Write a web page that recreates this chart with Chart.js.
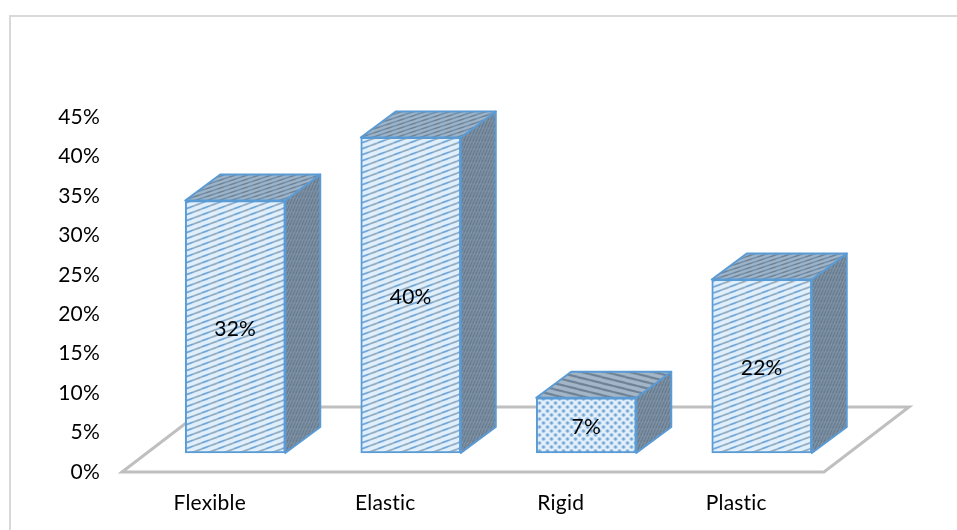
<!DOCTYPE html>
<html>
<head>
<meta charset="utf-8">
<title>Material types</title>
<script src="https://cdn.jsdelivr.net/npm/chart.js@4/dist/chart.umd.min.js"></script>
<style>
    body { margin: 0; background: #fff; }
    canvas { display: block; }
</style>
</head>
<body>
<canvas id="myChart" width="957" height="530"></canvas>
<script>
var categorias = ["Flexible", "Elastic", "Rigid", "Plastic"];
var valores = [32, 40, 7, 22];
var etiquetas = ["32%", "40%", "7%", "22%"];
var maximo = 45;
var paso = 5;

// front plane of the bars sits behind the floor edge
var corrX = 25.5, corrY = -19;
// depth of each box and of the floor
var fondoX = 35, fondoY = -26;
var pisoX = 85, pisoY = -65;
var colorBorde = "#5b9bd5";
var fuente = "Lato";

// diagonal stripes, tile w x h so the lines wrap without a seam
function rayas(w, h, fondo, c1, c2, grosor, baja) {
    var tela = document.createElement("canvas");
    tela.width = w;
    tela.height = h;
    var c = tela.getContext("2d");
    c.fillStyle = fondo;
    c.fillRect(0, 0, w, h);
    c.lineWidth = grosor;
    for (var k = -1; k <= 1; k++) {
        var y0 = baja ? k * h : (k + 1) * h;
        var y1 = baja ? (k + 1) * h : k * h;
        var ym = (y0 + y1) / 2;
        c.strokeStyle = c1;
        c.beginPath(); c.moveTo(0, y0); c.lineTo(w / 2, ym); c.stroke();
        c.strokeStyle = c2;
        c.beginPath(); c.moveTo(w / 2, ym); c.lineTo(w, y1); c.stroke();
    }
    return c.createPattern(tela, "repeat");
}

function puntos() {
    var tela = document.createElement("canvas");
    tela.width = 8;
    tela.height = 8;
    var c = tela.getContext("2d");
    c.fillStyle = "#e3effa";
    c.fillRect(0, 0, 8, 8);
    c.fillStyle = "#72a6d6";
    [[2, 6], [6, 2]].forEach(function (p) {
        c.beginPath();
        c.arc(p[0], p[1], 1.7, 0, Math.PI * 2);
        c.fill();
    });
    return c.createPattern(tela, "repeat");
}

var rayaFrente = rayas(16, 6, "#dfeffb", "#6ea3d6", "#93a9bc", 1.7, false);
var rayaTapa = rayas(12, 4, "#9fb4c6", "#6d8296", "#6f8fb0", 1.5, false);
var rayaLado = rayas(3, 7, "#8699ac", "#5b6f83", "#5f7387", 1.3, false);
var rayaTapaBaja = rayas(24, 6, "#a3b6c7", "#6f8295", "#6f8295", 2.2, true);
var frentes = [rayaFrente, rayaFrente, puntos(), rayaFrente];
var tapas = [rayaTapa, rayaTapa, rayaTapaBaja, rayaTapa];

function poligono(ctx, pts, relleno) {
    ctx.beginPath();
    ctx.moveTo(pts[0][0], pts[0][1]);
    for (var i = 1; i < pts.length; i++) {
        ctx.lineTo(pts[i][0], pts[i][1]);
    }
    ctx.closePath();
    ctx.fillStyle = relleno;
    ctx.fill();
    ctx.lineWidth = 2;
    ctx.lineJoin = "round";
    ctx.strokeStyle = colorBorde;
    ctx.stroke();
}

var marco = {
    id: "marco",
    beforeDraw: function (chart) {
        // a little tracking also keeps the "ti" pairs from joining
        chart.ctx.letterSpacing = "0.2px";
    },
    beforeDatasetsDraw: function (chart) {
        var ctx = chart.ctx, a = chart.chartArea;
        // outer frame, only top and left show
        ctx.save();
        ctx.strokeStyle = "#d9d9d9";
        ctx.lineWidth = 2;
        ctx.beginPath();
        ctx.moveTo(10, 530);
        ctx.lineTo(10, 16);
        ctx.lineTo(957, 16);
        ctx.stroke();
        // floor
        ctx.strokeStyle = "#bfbfbf";
        ctx.lineWidth = 3;
        ctx.lineJoin = "miter";
        ctx.beginPath();
        ctx.moveTo(a.left, a.bottom);
        ctx.lineTo(a.right, a.bottom);
        ctx.lineTo(a.right + pisoX, a.bottom + pisoY);
        ctx.lineTo(a.left + pisoX, a.bottom + pisoY);
        ctx.closePath();
        ctx.stroke();
        ctx.restore();
    },
    beforeDatasetDraw: function (chart, args) {
        var ctx = chart.ctx;
        ctx.save();
        ctx.translate(corrX, corrY);
        args.meta.data.forEach(function (barra, i) {
            var izq = barra.x - barra.width / 2, der = barra.x + barra.width / 2;
            poligono(ctx, [[der, barra.y], [der + fondoX, barra.y + fondoY], [der + fondoX, barra.base + fondoY], [der, barra.base]], rayaLado);
            poligono(ctx, [[izq, barra.y], [izq + fondoX, barra.y + fondoY], [der + fondoX, barra.y + fondoY], [der, barra.y]], tapas[i]);
        });
    },
    afterDatasetDraw: function (chart) {
        chart.ctx.restore();
    },
    afterDatasetsDraw: function (chart) {
        var ctx = chart.ctx;
        ctx.save();
        ctx.fillStyle = "#000";
        ctx.font = "21px " + fuente;
        ctx.textAlign = "center";
        ctx.textBaseline = "middle";
        chart.getDatasetMeta(0).data.forEach(function (barra, i) {
            ctx.fillText(etiquetas[i], barra.x + corrX, (barra.y + barra.base) / 2 + corrY + 2);
        });
        ctx.restore();
    }
};

var myChart = new Chart(document.getElementById("myChart"), {
    type: "bar",
    data: {
        labels: categorias,
        datasets: [{
            data: valores,
            backgroundColor: frentes,
            borderColor: colorBorde,
            borderWidth: 2,
            borderSkipped: false,
            barThickness: 100,
            clip: false
        }]
    },
    options: {
        responsive: false,
        animation: false,
        layout: { padding: { left: 0, right: 133, top: 117, bottom: 0 } },
        plugins: { legend: { display: false }, tooltip: { enabled: false } },
        scales: {
            x: {
                grid: { display: false, drawTicks: false },
                border: { display: false },
                ticks: { color: "#000", font: { family: fuente, size: 21 }, padding: 19, maxRotation: 0 },
                afterFit: function (escala) { escala.height = 58; }
            },
            y: {
                min: 0,
                max: maximo,
                grid: { display: false, drawTicks: false },
                border: { display: false },
                ticks: {
                    stepSize: paso,
                    color: "#000",
                    font: { family: fuente, size: 21 },
                    padding: 22,
                    callback: function (v) { return v + "%"; }
                },
                afterFit: function (escala) { escala.width = 122; }
            }
        }
    },
    plugins: [marco]
});
</script>
</body>
</html>
